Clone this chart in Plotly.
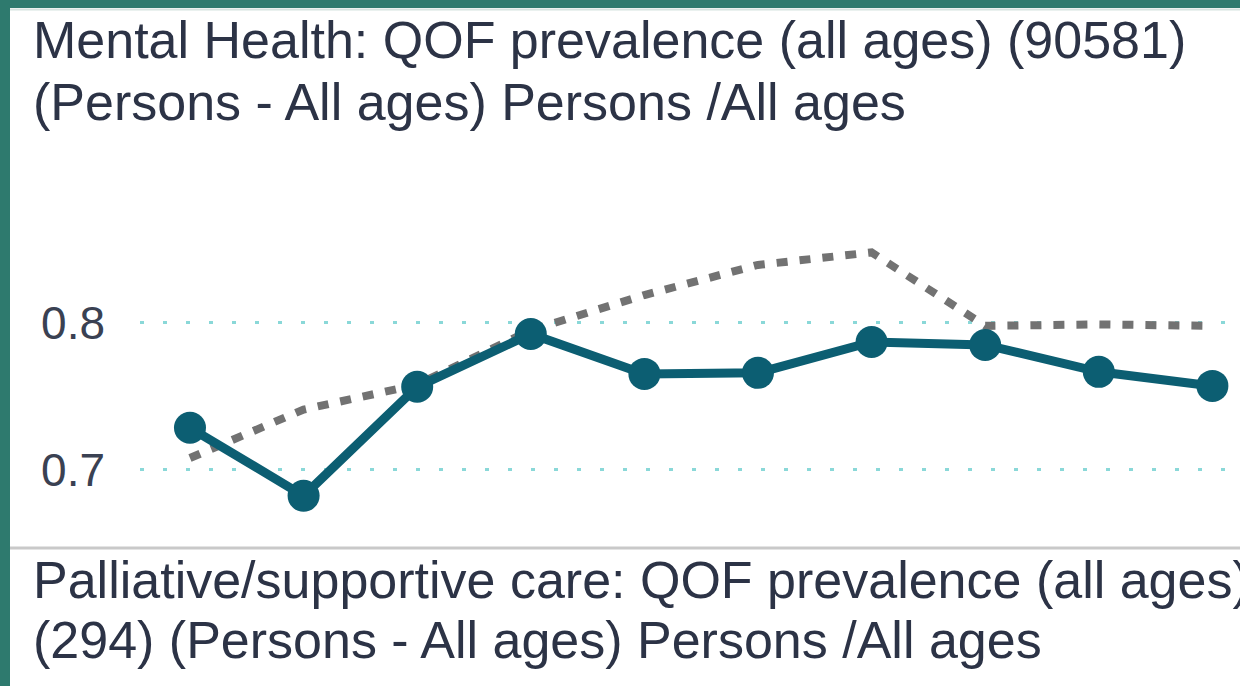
import plotly.graph_objects as go

W, H = 1240, 686

periods = ["P1", "P2", "P3", "P4", "P5", "P6", "P7", "P8", "P9", "P10"]
practice = [0.7286, 0.6823, 0.7565, 0.7925, 0.7653, 0.7660, 0.7870, 0.7850, 0.7667, 0.7571]
comparator = [0.708, 0.741, 0.758, 0.795, 0.819, 0.8395, 0.848, 0.798, 0.799, 0.798]
y_ticks = [0.7, 0.8]
y_tick_labels = ["0.7", "0.8"]

title1_lines = ["Mental Health: QOF prevalence (all ages) (90581)",
                "(Persons - All ages) Persons /All ages"]
title2_lines = ["Palliative/supportive care: QOF prevalence (all ages)",
                "(294) (Persons - All ages) Persons /All ages"]

FONT = "Liberation Sans, Arial, sans-serif"
TEXT = "#2c3346"
TEAL = "#2e7a6e"

def px_x(p):
    return p / W

def px_y(p):
    return 1 - p / H

# plot area in pixels
L, R, T, B = 140, 1240, 200, 530

fig = go.Figure()
fig.add_trace(go.Scatter(
    x=periods, y=comparator, mode="lines",
    line=dict(color="#727272", width=8, dash="11px,12px"),
    cliponaxis=False, hoverinfo="skip"))
fig.add_trace(go.Scatter(
    x=periods, y=practice, mode="lines+markers",
    line=dict(color="#0c5e72", width=9),
    marker=dict(color="#0c5e72", size=32),
    cliponaxis=False))

fig.update_layout(
    width=W, height=H,
    margin=dict(l=0, r=0, t=0, b=0),
    paper_bgcolor="white", plot_bgcolor="white",
    showlegend=False,
    font=dict(family=FONT, color=TEXT),
    xaxis=dict(domain=[px_x(L), px_x(R)], range=[-0.44, 9.243],
               showgrid=False, showticklabels=False, zeroline=False,
               showline=False, ticks=""),
    yaxis=dict(domain=[px_y(B), px_y(T)], range=[0.659, 0.8837],
               tickvals=y_ticks, ticktext=y_tick_labels,
               tickfont=dict(size=46, color="#3a4152", family=FONT),
               showgrid=True, gridcolor="#8ad8d8", gridwidth=3,
               griddash="4px,19px", zeroline=False, showline=False,
               ticks="", ticklabelstandoff=34),
)

# frame: teal border left and top
fig.add_shape(type="rect", xref="paper", yref="paper",
              x0=0, x1=px_x(10), y0=0, y1=1, fillcolor=TEAL, line_width=0, layer="above")
fig.add_shape(type="rect", xref="paper", yref="paper",
              x0=0, x1=1, y0=px_y(8), y1=1, fillcolor=TEAL, line_width=0, layer="above")
fig.add_shape(type="line", xref="paper", yref="paper",
              x0=px_x(10), x1=1, y0=px_y(9.5), y1=px_y(9.5),
              line=dict(color="#d6e3e0", width=2), layer="above")
# separator between panels
fig.add_shape(type="line", xref="paper", yref="paper",
              x0=px_x(10), x1=1, y0=px_y(548), y1=px_y(548),
              line=dict(color="#c9c9c9", width=3), layer="above")

for text, top in zip(title1_lines + title2_lines, [9, 71, 549, 609]):
    fig.add_annotation(xref="paper", yref="paper", x=px_x(31), y=px_y(top),
                       xanchor="left", yanchor="top", align="left", showarrow=False,
                       text=text, font=dict(size=52, color=TEXT, family=FONT))

fig.write_html("out.html", config={"displayModeBar": False},
               post_script="document.body.style.margin='0';document.body.style.overflow='hidden';")
